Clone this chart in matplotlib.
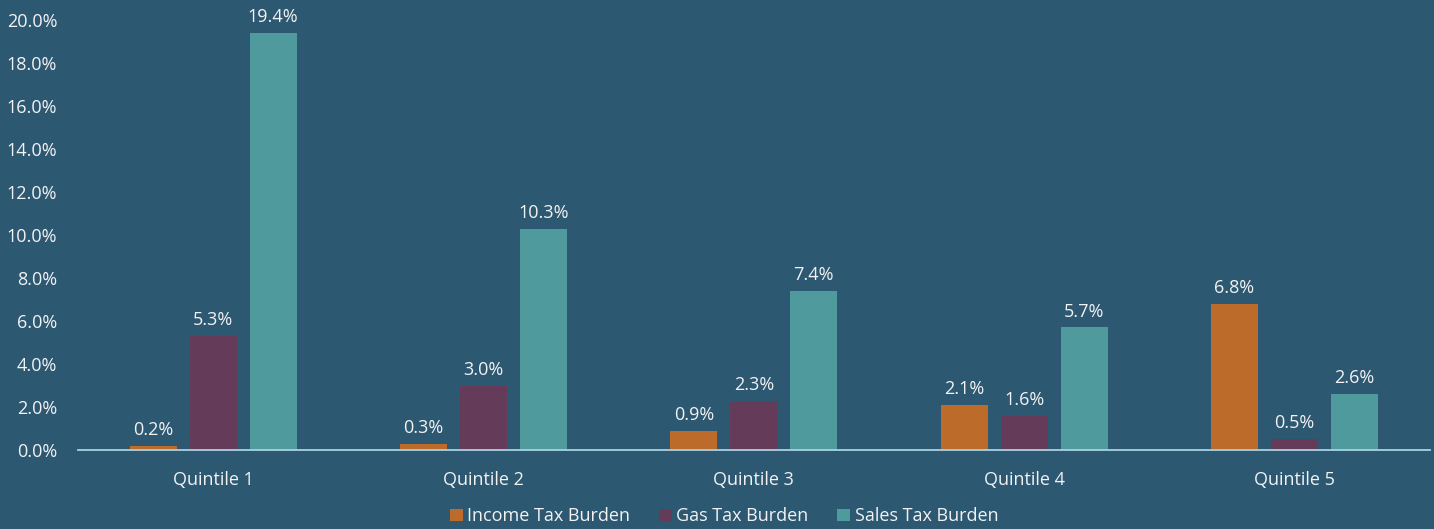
import matplotlib

matplotlib.use("Agg")
import matplotlib.pyplot as plt
import numpy as np
from matplotlib.ticker import FuncFormatter

categories = ["Quintile 1", "Quintile 2", "Quintile 3", "Quintile 4", "Quintile 5"]
income_tax = [0.2, 0.3, 0.9, 2.1, 6.8]
gas_tax = [5.3, 3.0, 2.3, 1.6, 0.5]
sales_tax = [19.4, 10.3, 7.4, 5.7, 2.6]
series_names = ["Income Tax Burden", "Gas Tax Burden", "Sales Tax Burden"]

BG = "#2d5872"
COLORS = ["#bd6b2a", "#643c59", "#4f9a9c"]
TEXT = "#f2f2f2"
FS = 13

plt.rcParams["font.family"] = ["Open Sans", "DejaVu Sans"]

fig = plt.figure(figsize=(14.34, 5.29), dpi=100, facecolor=BG)
ax = fig.add_axes([0.0544, 0.1493, 0.9426, 0.8127], facecolor=BG)

x = np.arange(len(categories))
width = 0.174
step = 0.222
for i, (vals, name) in enumerate(zip([income_tax, gas_tax, sales_tax], series_names)):
    pos = x + (i - 1) * step
    bars = ax.bar(pos, vals, width, color=COLORS[i], label=name, zorder=2)
    for b, v in zip(bars, vals):
        ax.annotate(f"{v:.1f}%", (b.get_x() + b.get_width() / 2, v),
                    xytext=(0, 5), textcoords="offset points",
                    ha="center", va="bottom", color=TEXT, fontsize=FS,
                    annotation_clip=False)

ax.set_xlim(-0.5, len(categories) - 0.5)
ax.set_ylim(0, 20)
ax.set_yticks(np.arange(0, 21, 2))
ax.yaxis.set_major_formatter(FuncFormatter(lambda v, _: f"{v:.1f}%"))
ax.set_xticks(x)
ax.set_xticklabels(categories)
ax.tick_params(axis="y", length=0, pad=15, labelsize=FS, labelcolor=TEXT)
ax.tick_params(axis="x", length=0, pad=15, labelsize=FS, labelcolor=TEXT)

for side in ["top", "right", "left"]:
    ax.spines[side].set_visible(False)
ax.spines["bottom"].set_color("#a9d2e3")
ax.spines["bottom"].set_linewidth(1.3)
ax.spines["bottom"].set_zorder(3)

leg = fig.legend(loc="center", bbox_to_anchor=(0.505, 0.024), ncol=3, frameon=False,
                 fontsize=FS, handlelength=0.7, handleheight=0.7,
                 handletextpad=0.25, columnspacing=1.6, labelcolor=TEXT)

fig.savefig("out.png", dpi=100, facecolor=BG)
